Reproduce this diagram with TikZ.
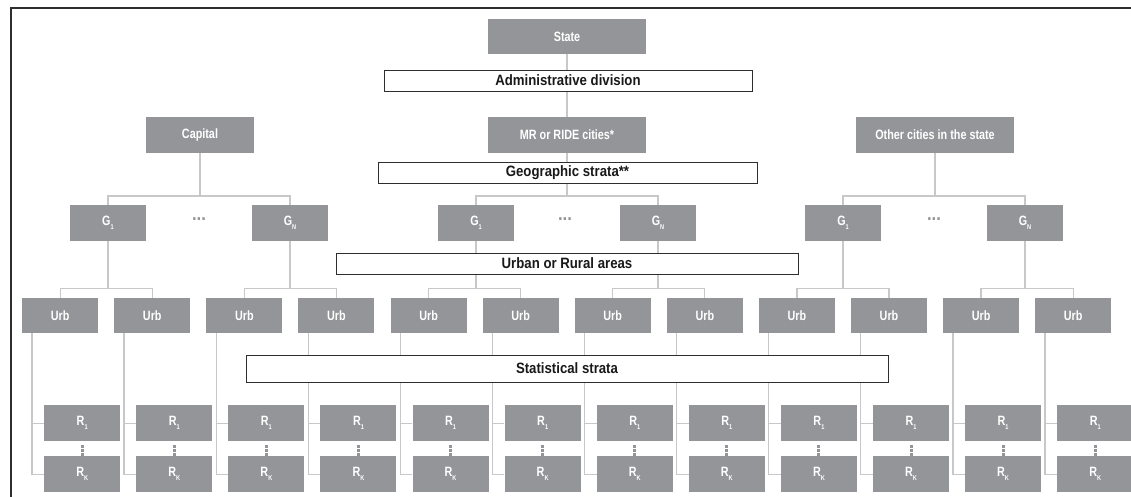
\documentclass[tikz,border=0pt]{standalone}
\usepackage{fontspec}
\usetikzlibrary{calc}
\newfontfamily\condfont[FakeStretch=0.8]{Liberation Sans}
\newfontfamily\labfont[FakeStretch=0.88]{Liberation Sans}
\definecolor{boxgray}{HTML}{939598}
\definecolor{linegray}{HTML}{C8C8C8}
\definecolor{framegray}{HTML}{2E2E2E}
\tikzset{
  gbox/.style={fill=boxgray, draw=none, text=white, inner sep=0pt, font=\condfont\bfseries\fontsize{13.5}{13.5}\selectfont},
  lbox/.style={fill=white, draw=framegray, line width=0.9pt, inner sep=0pt, font=\labfont\bfseries\fontsize{15}{15}\selectfont, text=black!90},
  conn/.style={draw=linegray, line width=1.3pt},
  gdots/.style={text=boxgray, font=\labfont\bfseries\fontsize{19}{19}\selectfont, inner sep=0pt},
}
\newcommand{\sbs}[1]{\raisebox{-4pt}{\fontsize{7}{7}\selectfont #1}}
\begin{document}
\begin{tikzpicture}[x=1pt,y=-1pt]
\useasboundingbox (0,0) rectangle (1131,497);
% frame
\draw[framegray, line width=1.6pt] (11,497.5) -- (11,8) -- (1131,8);

% top level
\node[gbox, minimum width=158, minimum height=35] (state) at (567,36.5) {State};
\node[gbox, minimum width=108, minimum height=36] (cap) at (200,135) {Capital};
\node[gbox, minimum width=158, minimum height=36] (mr) at (567,135) {MR or RIDE cities*};
\node[gbox, minimum width=158, minimum height=36] (oth) at (935,135) {Other cities in the state};

% G boxes
\foreach \n/\x/\s in {g1/108/1, g2/290/N, g3/476/1, g4/658/N, g5/843/1, g6/1025/N}
  \node[gbox, minimum width=76, minimum height=36] (\n) at (\x,223) {G\sbs{\s}};

% dots between G boxes
\foreach \n/\x in {d1/199, d2/565, d3/934}
  \node[gdots] (\n) at (\x,219) {...};

% Urb boxes and R boxes
\foreach \i in {1,...,12} {
  \pgfmathsetmacro{\lx}{22+(\i-1)*92.09}
  \node[gbox, minimum width=76, minimum height=35, anchor=north west] (u\i) at (\lx,298) {Urb};
  \node[gbox, minimum width=76, minimum height=36, anchor=north west] (ra\i) at (\lx+22,405) {R\sbs{1}};
  \node[gbox, minimum width=76, minimum height=36, anchor=north west] (rk\i) at (\lx+22,456) {R\sbs{K}};
}

% connectors
\draw[conn] (state.south) -- (mr.north);
\coordinate (jL) at (200,196);
\coordinate (jM) at (567,196);
\coordinate (jR) at (935,196);
\draw[conn] (cap.south) -- (jL);
\draw[conn] (mr.south) -- (jM);
\draw[conn] (oth.south) -- (jR);
\draw[conn] (g1.north) |- (jL) -| (g2.north);
\draw[conn] (g3.north) |- (jM) -| (g4.north);
\draw[conn] (g5.north) |- (jR) -| (g6.north);
\foreach \g/\a/\b in {g1/1/2, g2/3/4, g3/5/6, g4/7/8, g5/9/10, g6/11/12} {
  \coordinate (k\g) at ($(\g.south)+(0,47)$);
  \draw[conn] (\g.south) -- (k\g);
  \draw[conn] (u\a.north) |- (k\g) -| (u\b.north);
}
\foreach \i in {1,...,12} {
  \coordinate (v\i) at ([xshift=10pt]u\i.south west);
  \draw[conn] (v\i) |- (rk\i.west);
  \draw[conn] (v\i |- ra\i.west) -- (ra\i.west);
  \foreach \t in {0,4,8}
    \fill[boxgray] ($(ra\i.south)+(-1.5,3.5+\t)$) rectangle ++(3,2.6);
}

% label boxes on top
\node[lbox, minimum width=368, minimum height=21] (adm) at (568,80.5) {Administrative division};
\node[lbox, minimum width=379, minimum height=21] (geo) at (567.5,172.5) {Geographic strata**};
\node[lbox, minimum width=462, minimum height=21] (urb) at (567,263.5) {Urban or Rural areas};
\node[lbox, minimum width=642, minimum height=27] (stat) at (567,368.5) {Statistical strata};
\end{tikzpicture}
\end{document}
